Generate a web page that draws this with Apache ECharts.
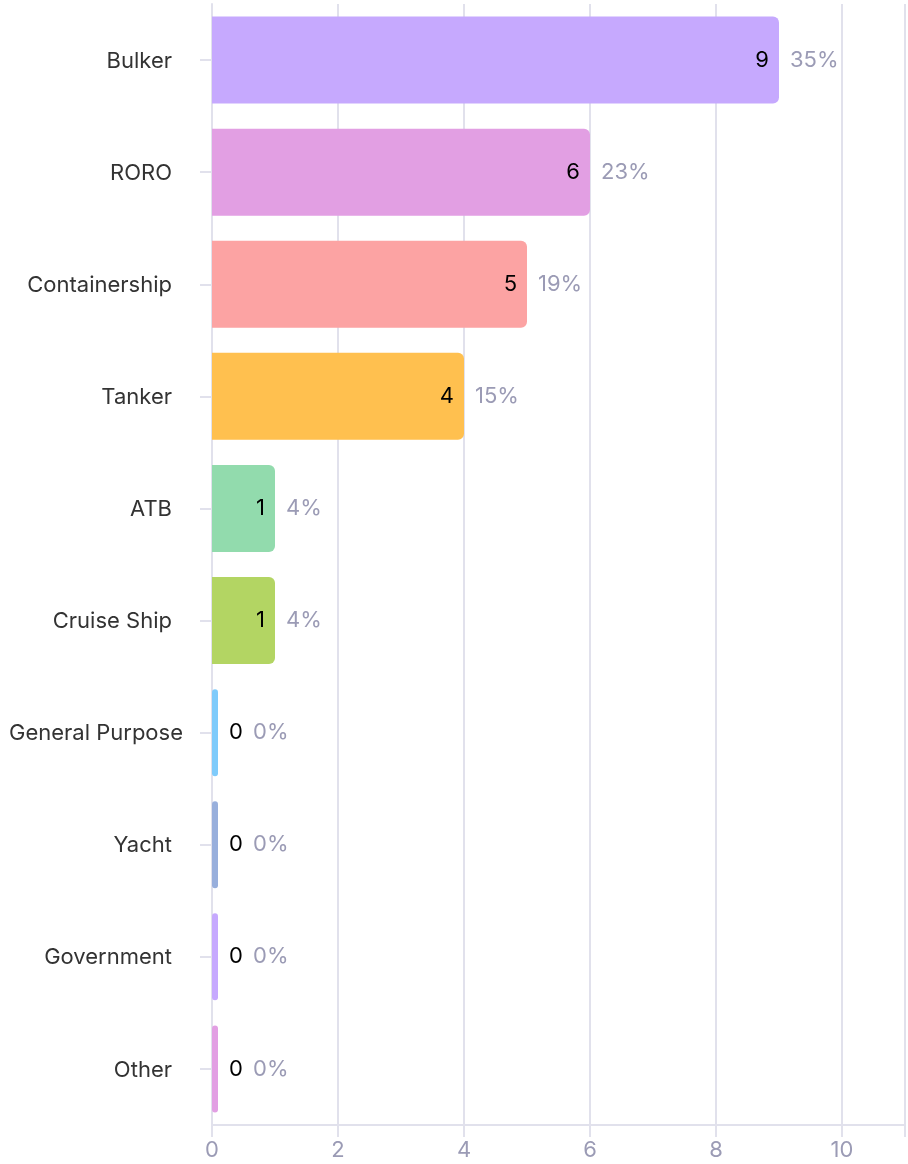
<!DOCTYPE html>
<html>
<head>
<meta charset="utf-8">
<script src="https://cdn.jsdelivr.net/npm/echarts@6/dist/echarts.min.js"></script>
<style>
html,body{margin:0;padding:0;background:#fff;}
#chart{width:908px;height:1164px;}
</style>
</head>
<body>
<div id="chart"></div>
<script>
const categories = ['Bulker','RORO','Containership','Tanker','ATB','Cruise Ship','General Purpose','Yacht','Government','Other'];
const counts = [9,6,5,4,1,1,0,0,0,0];
const percents = ['35%','23%','19%','15%','4%','4%','0%','0%','0%','0%'];
const colors = ['#c6a9fe','#e29fe3','#fca3a3','#ffc04f','#92dbad','#b3d563','#7fcbfb','#98afdc','#c6a9fe','#e29fe3'];
const xTicks = [0,2,4,6,8,10];

const FONT = 'Inter';
const FS = 22;
const chart = echarts.init(document.getElementById('chart'));

const barData = counts.map((v,i)=>({
  value: v,
  itemStyle: { color: colors[i], borderRadius: v === 0 ? 3 : [0,6,6,0] },
  label: v === 0 ? { position: 'right', distance: 11 } : { position: 'insideRight', distance: 10 }
}));
const pctData = counts.map((v,i)=>({
  value: v,
  label: { distance: v === 0 ? 35 : 11 }
}));

chart.setOption({
  animation: false,
  grid: { left: 212, right: 2, top: 4, bottom: 39, containLabel: false },
  xAxis: {
    type: 'value', min: 0, max: 11, interval: 2,
    axisLine: { show: true, lineStyle: { color: '#e1e1ec', width: 2 } },
    axisTick: { show: true, length: 12, lineStyle: { color: '#e1e1ec', width: 2 } },
    splitLine: { show: true, lineStyle: { color: '#e1e1ec', width: 2 } },
    axisLabel: {
      color: '#9b9bb5', fontFamily: FONT, fontSize: 22, margin: 14,
      formatter: v => xTicks.includes(v) ? String(v) : ''
    }
  },
  yAxis: {
    type: 'category', inverse: true, data: categories,
    axisLine: { show: true, lineStyle: { color: '#e1e1ec', width: 2 } },
    axisTick: { show: true, alignWithLabel: true, length: 12, lineStyle: { color: '#e1e1ec', width: 2 } },
    axisLabel: {
      margin: 29, color: '#333', fontFamily: FONT, fontSize: FS,
      formatter: v => v === 'General Purpose' ? '{g|' + v + '}' : '{n|' + v + '}',
      rich: {
        n: { color: '#333', fontFamily: FONT, fontSize: FS, padding: [2, 11, 0, 0] },
        g: { color: '#333', fontFamily: FONT, fontSize: FS, padding: [2, 0, 0, 0] }
      }
    }
  },
  series: [
    {
      type: 'bar', data: barData, barWidth: 87, barMinHeight: 6,
      label: { show: true, color: '#000', fontFamily: FONT, fontSize: FS, padding: [2, 0, 0, 0],
        formatter: p => String(p.value) },
      z: 2
    },
    {
      type: 'bar', data: pctData, barWidth: 87, barMinHeight: 6, barGap: '-100%',
      itemStyle: { color: 'rgba(0,0,0,0)' }, silent: true,
      label: { show: true, position: 'right', color: '#9b9bb5', fontFamily: FONT, fontSize: FS, padding: [2, 0, 0, 0],
        formatter: p => percents[p.dataIndex] },
      z: 3
    }
  ]
});
</script>
</body>
</html>
